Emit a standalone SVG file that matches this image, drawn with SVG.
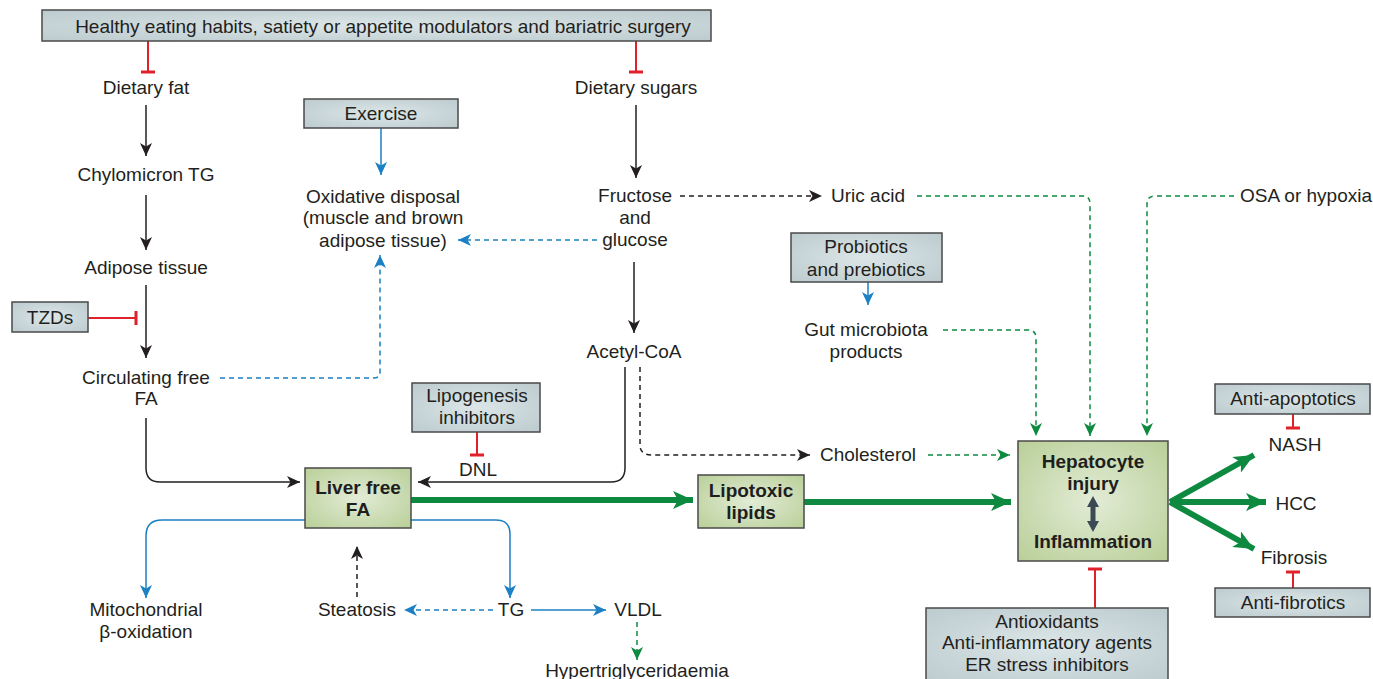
<svg xmlns="http://www.w3.org/2000/svg" width="1373" height="679" viewBox="0 0 1373 679">
<defs>
<style>
.t{font-family:"Liberation Sans",Arial,sans-serif;font-size:19px;fill:#231f20;text-anchor:middle}
.b{font-weight:bold;fill:#1e1e1e}
.gb{stroke:#4a4a4a;stroke-width:1.5;fill:url(#gray)}
.grn{stroke:#4a4a4a;stroke-width:1.5;fill:url(#green)}
.k{stroke:#231f20;stroke-width:1.5;fill:none}
.kd{stroke:#231f20;stroke-width:1.5;fill:none;stroke-dasharray:5,4}
.bl{stroke:#1b80c4;stroke-width:1.5;fill:none}
.bld{stroke:#1b80c4;stroke-width:1.5;fill:none;stroke-dasharray:5,4}
.gd{stroke:#0d8a40;stroke-width:1.5;fill:none;stroke-dasharray:5,4}
.gt{stroke:#0d8a40;stroke-width:6;fill:none}
.r{stroke:#e0202a;stroke-width:2;fill:none}
.rb{stroke:#e0202a;stroke-width:3;fill:none}
</style>
<radialGradient id="gray" cx="50%" cy="50%" r="70%"><stop offset="0" stop-color="#dce6e8"/><stop offset="1" stop-color="#bccbce"/></radialGradient>
<radialGradient id="green" cx="50%" cy="50%" r="70%"><stop offset="0" stop-color="#e2ecd6"/><stop offset="1" stop-color="#b9cf98"/></radialGradient>
<marker id="ak" markerUnits="userSpaceOnUse" markerWidth="14" markerHeight="12" refX="13" refY="6" orient="auto"><path d="M0,0 L13,6 L0,12 L3.5,6 z" fill="#231f20"/></marker>
<marker id="ab" markerUnits="userSpaceOnUse" markerWidth="14" markerHeight="12" refX="13" refY="6" orient="auto"><path d="M0,0 L13,6 L0,12 L3.5,6 z" fill="#1b80c4"/></marker>
<marker id="ag" markerUnits="userSpaceOnUse" markerWidth="14" markerHeight="12" refX="13" refY="6" orient="auto"><path d="M0,0 L13,6 L0,12 L3.5,6 z" fill="#0d8a40"/></marker>
<marker id="agt" markerUnits="userSpaceOnUse" markerWidth="22" markerHeight="18" refX="20" refY="9" orient="auto"><path d="M0,0 L20,9 L0,18 L5,9 z" fill="#0d8a40"/></marker>
</defs>
<rect width="1373" height="679" fill="#ffffff"/>

<g id="connectors">
<path class="r" d="M148,41 V72"/><path class="rb" d="M141,72 H155"/>
<path class="r" d="M636,41 V72"/><path class="rb" d="M629,72 H643"/>
<path class="r" d="M88,318 H136"/><path class="rb" d="M136,311 V325"/>
<path class="r" d="M477,432 V455"/><path class="rb" d="M470,455 H484"/>
<path class="r" d="M1095,608 V570"/><path class="rb" d="M1088,569 H1102"/>
<path class="r" d="M1293,414 V428"/><path class="rb" d="M1286,428 H1300"/>
<path class="r" d="M1293,588 V573"/><path class="rb" d="M1286,572 H1300"/>
<path class="k" d="M146,105 V156" marker-end="url(#ak)"/>
<path class="k" d="M146,195 V250" marker-end="url(#ak)"/>
<path class="k" d="M146,285 V358" marker-end="url(#ak)"/>
<path class="k" d="M146,418 V468 Q146,482 160,482 H300" marker-end="url(#ak)"/>
<path class="k" d="M636,105 V178" marker-end="url(#ak)"/>
<path class="k" d="M634,262 V333" marker-end="url(#ak)"/>
<path class="k" d="M625,367 V468 Q625,482 611,482 H418" marker-end="url(#ak)"/>
<path class="kd" d="M680,196 H822" marker-end="url(#ak)"/>
<path class="kd" d="M640,367 V445 Q640,455 652,455 H810" marker-end="url(#ak)"/>
<path class="kd" d="M357,597 V546" marker-end="url(#ak)"/>
<path class="bl" d="M381,128 V175" marker-end="url(#ab)"/>
<path class="bld" d="M220,378 H374 Q380,378 380,372 V255" marker-end="url(#ab)"/>
<path class="bld" d="M597,240 H458" marker-end="url(#ab)"/>
<path class="bl" d="M868,282 V305" marker-end="url(#ab)"/>
<path class="bl" d="M305,520 H162 Q146,520 146,536 V598" marker-end="url(#ab)"/>
<path class="bl" d="M411,520 H496 Q510,520 510,534 V598" marker-end="url(#ab)"/>
<path class="bld" d="M493,610 H404" marker-end="url(#ab)"/>
<path class="bl" d="M531,610 H606" marker-end="url(#ab)"/>
<path class="gd" d="M917,196 H1083 Q1090,196 1090,204 V436" marker-end="url(#ag)"/>
<path class="gd" d="M1234,196 H1155 Q1147,196 1147,204 V436" marker-end="url(#ag)"/>
<path class="gd" d="M943,330 H1028 Q1036,330 1036,338 V436" marker-end="url(#ag)"/>
<path class="gd" d="M928,455 H1010" marker-end="url(#ag)"/>
<path class="gd" d="M637,622 V660" marker-end="url(#ag)"/>
<path class="gt" d="M411,500 H693" marker-end="url(#agt)"/>
<path class="gt" d="M804,502 H1011" marker-end="url(#agt)"/>
<path class="gt" d="M1170,502 L1254,455" marker-end="url(#agt)"/>
<path class="gt" d="M1170,502 H1266" marker-end="url(#agt)"/>
<path class="gt" d="M1170,502 L1254,549" marker-end="url(#agt)"/>
</g>

<g id="n-healthy"><rect class="gb" x="42" y="10" width="669" height="31"/><text class="t" x="383" y="33">Healthy eating habits, satiety or appetite modulators and bariatric surgery</text></g>
<g id="n-dietfat"><text class="t" x="146" y="94">Dietary fat</text></g>
<g id="n-dietsugar"><text class="t" x="636" y="94">Dietary sugars</text></g>
<g id="n-chylo"><text class="t" x="146" y="181">Chylomicron TG</text></g>
<g id="n-adipose"><text class="t" x="146" y="274">Adipose tissue</text></g>
<g id="n-tzd"><rect class="gb" x="12" y="302" width="76" height="30"/><text class="t" x="50" y="324">TZDs</text></g>
<g id="n-circ"><text class="t" x="146" y="384">Circulating free</text><text class="t" x="146" y="405">FA</text></g>
<g id="n-exercise"><rect class="gb" x="304" y="99" width="154" height="29"/><text class="t" x="381" y="120">Exercise</text></g>
<g id="n-oxid"><text class="t" x="383" y="203">Oxidative disposal</text><text class="t" x="383" y="224">(muscle and brown</text><text class="t" x="383" y="247">adipose tissue)</text></g>
<g id="n-fructose"><text class="t" x="635" y="202">Fructose</text><text class="t" x="635" y="224">and</text><text class="t" x="635" y="246">glucose</text></g>
<g id="n-uric"><text class="t" x="868" y="202">Uric acid</text></g>
<g id="n-osa"><text class="t" x="1372" y="202" style="text-anchor:end">OSA or hypoxia</text></g>
<g id="n-probiotics"><rect class="gb" x="791" y="233" width="151" height="49"/><text class="t" x="866" y="253">Probiotics</text><text class="t" x="866" y="276">and prebiotics</text></g>
<g id="n-gut"><text class="t" x="866" y="336">Gut microbiota</text><text class="t" x="866" y="358">products</text></g>
<g id="n-acetyl"><text class="t" x="634" y="358">Acetyl-CoA</text></g>
<g id="n-lipoinh"><rect class="gb" x="412" y="383" width="128" height="49"/><text class="t" x="477" y="402">Lipogenesis</text><text class="t" x="477" y="424">inhibitors</text></g>
<g id="n-dnl"><text class="t" x="478" y="476">DNL</text></g>
<g id="n-chol"><text class="t" x="868" y="461">Cholesterol</text></g>
<g id="n-liverfa"><rect class="grn" x="305" y="468" width="106" height="60"/><text class="t b" x="358" y="494">Liver free</text><text class="t b" x="358" y="516">FA</text></g>
<g id="n-lipotoxic"><rect class="grn" x="698" y="475" width="106" height="53"/><text class="t b" x="751" y="497">Lipotoxic</text><text class="t b" x="751" y="519">lipids</text></g>
<g id="n-hepato"><rect class="grn" x="1018" y="441" width="150" height="120"/><text class="t b" x="1093" y="468">Hepatocyte</text><text class="t b" x="1093" y="490">injury</text>
<path d="M1093,496 L1099,507 L1095.5,507 L1095.5,521 L1099,521 L1093,532 L1087,521 L1090.5,521 L1090.5,507 L1087,507 z" fill="#3b4a55"/>
<text class="t b" x="1093" y="548">Inflammation</text></g>
<g id="n-antiapop"><rect class="gb" x="1215" y="384" width="155" height="30"/><text class="t" x="1293" y="405">Anti-apoptotics</text></g>
<g id="n-nash"><text class="t" x="1295" y="451">NASH</text></g>
<g id="n-hcc"><text class="t" x="1296" y="510">HCC</text></g>
<g id="n-fibrosis"><text class="t" x="1294" y="564">Fibrosis</text></g>
<g id="n-antifib"><rect class="gb" x="1215" y="588" width="155" height="29"/><text class="t" x="1293" y="609">Anti-fibrotics</text></g>
<g id="n-antiox"><rect class="gb" x="926" y="608" width="242" height="75"/><text class="t" x="1047" y="628">Antioxidants</text><text class="t" x="1047" y="649">Anti-inflammatory agents</text><text class="t" x="1047" y="671">ER stress inhibitors</text></g>
<g id="n-mito"><text class="t" x="146" y="616">Mitochondrial</text><text class="t" x="146" y="638">β-oxidation</text></g>
<g id="n-steatosis"><text class="t" x="357" y="616">Steatosis</text></g>
<g id="n-tg"><text class="t" x="511" y="616">TG</text></g>
<g id="n-vldl"><text class="t" x="638" y="616">VLDL</text></g>
<g id="n-hypertg"><text class="t" x="637" y="677">Hypertriglyceridaemia</text></g>
</svg>
